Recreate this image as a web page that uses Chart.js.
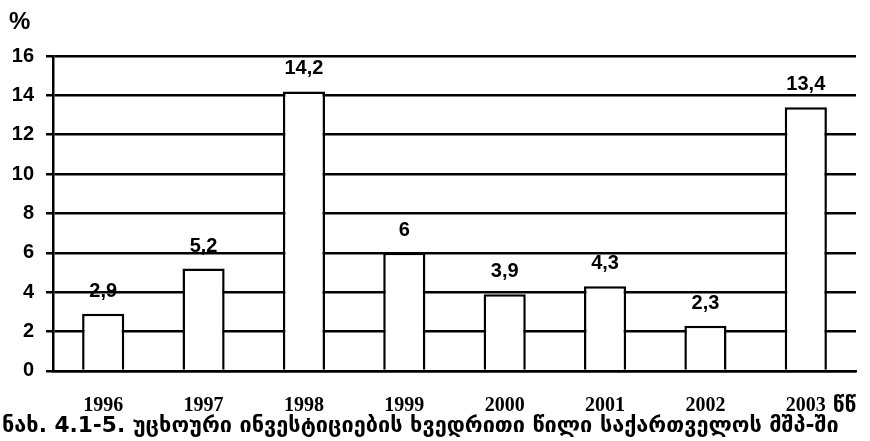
<!DOCTYPE html>
<html>
<head>
<meta charset="utf-8">
<script src="https://cdn.jsdelivr.net/npm/chart.js@4/dist/chart.umd.min.js"></script>
<style>
  html, body { margin:0; padding:0; background:#fff; }
  #wrap { width:870px; height:441px; }
</style>
</head>
<body>
<div id="wrap"><canvas id="c" width="870" height="441"></canvas></div>
<script>
/* ── data ─────────────────────────────────── */
const years  = ['1996','1997','1998','1999','2000','2001','2002','2003'];
const yearSuffix = 'წწ';
const shares = [2.9, 5.2, 14.2, 6, 3.9, 4.3, 2.3, 13.4];
const yTicks = [0, 2, 4, 6, 8, 10, 12, 14, 16];
const unitLabel = '%';
const caption = 'ნახ. 4.1-5. უცხოური ინვესტიციების ხვედრითი წილი საქართველოს მშპ-ში';

const SANS = '"Liberation Sans", Arial, sans-serif';

/* value labels over bars (comma decimals), unit mark, year suffix */
const extraText = {
  id: 'extraText',
  afterDraw(chart) {
    const ctx = chart.ctx;
    const meta = chart.getDatasetMeta(0);
    const x = chart.scales.x;
    ctx.save();
    ctx.fillStyle = '#000';

    ctx.font = 'bold 20px ' + SANS;
    ctx.textAlign = 'center';
    ctx.textBaseline = 'alphabetic';
    meta.data.forEach((bar, i) => {
      ctx.fillText(String(shares[i]).replace('.', ','), bar.x, bar.y - 17);
    });

    ctx.font = 'bold 24px ' + SANS;
    ctx.textAlign = 'left';
    ctx.textBaseline = 'top';
    ctx.fillText(unitLabel, 9, 10);

    const last = x.getPixelForTick(years.length - 1);
    ctx.font = 'bold 21px "DejaVu Sans", sans-serif';
    ctx.textBaseline = 'alphabetic';
    ctx.fillText(yearSuffix, last + 27, x.top + 41);
    ctx.restore();
  }
};

new Chart(document.getElementById('c'), {
  type: 'bar',
  data: {
    labels: years,
    datasets: [{
      data: shares,
      backgroundColor: '#fff',
      borderColor: '#000',
      borderWidth: 2.5,
      borderSkipped: 'bottom',
      barPercentage: 0.42,
      categoryPercentage: 1
    }]
  },
  options: {
    responsive: false,
    animation: false,
    layout: { padding: { left: 2, right: 14, top: 56, bottom: 2 } },
    plugins: {
      legend: { display: false },
      tooltip: { enabled: false },
      title: {
        display: true, text: caption, position: 'bottom', align: 'start', color: '#000',
        font: { family: '"DejaVu Sans", sans-serif', size: 21.7, weight: 'bold' },
        padding: { top: 0, bottom: 0 }
      }
    },
    scales: {
      x: {
        afterFit(scale) { scale.height = 42; },
        grid: { display: false, drawTicks: false },
        border: { display: true, color: '#000', width: 2.5 },
        ticks: {
          color: '#000', padding: 23, maxRotation: 0,
          font: { family: '"Liberation Serif", serif', size: 20, weight: 'bold' }
        }
      },
      y: {
        min: 0, max: 16,
        afterFit(scale) { scale.width = 51; },
        afterBuildTicks(axis) { axis.ticks = yTicks.map(v => ({ value: v })); },
        grid: { color: '#000', lineWidth: 2.5, tickLength: 7 },
        border: { display: true, color: '#000', width: 2.5 },
        ticks: {
          color: '#000', padding: 12,
          font: { family: SANS, size: 20, weight: 'bold' }
        }
      }
    }
  },
  plugins: [extraText]
});
</script>
</body>
</html>
